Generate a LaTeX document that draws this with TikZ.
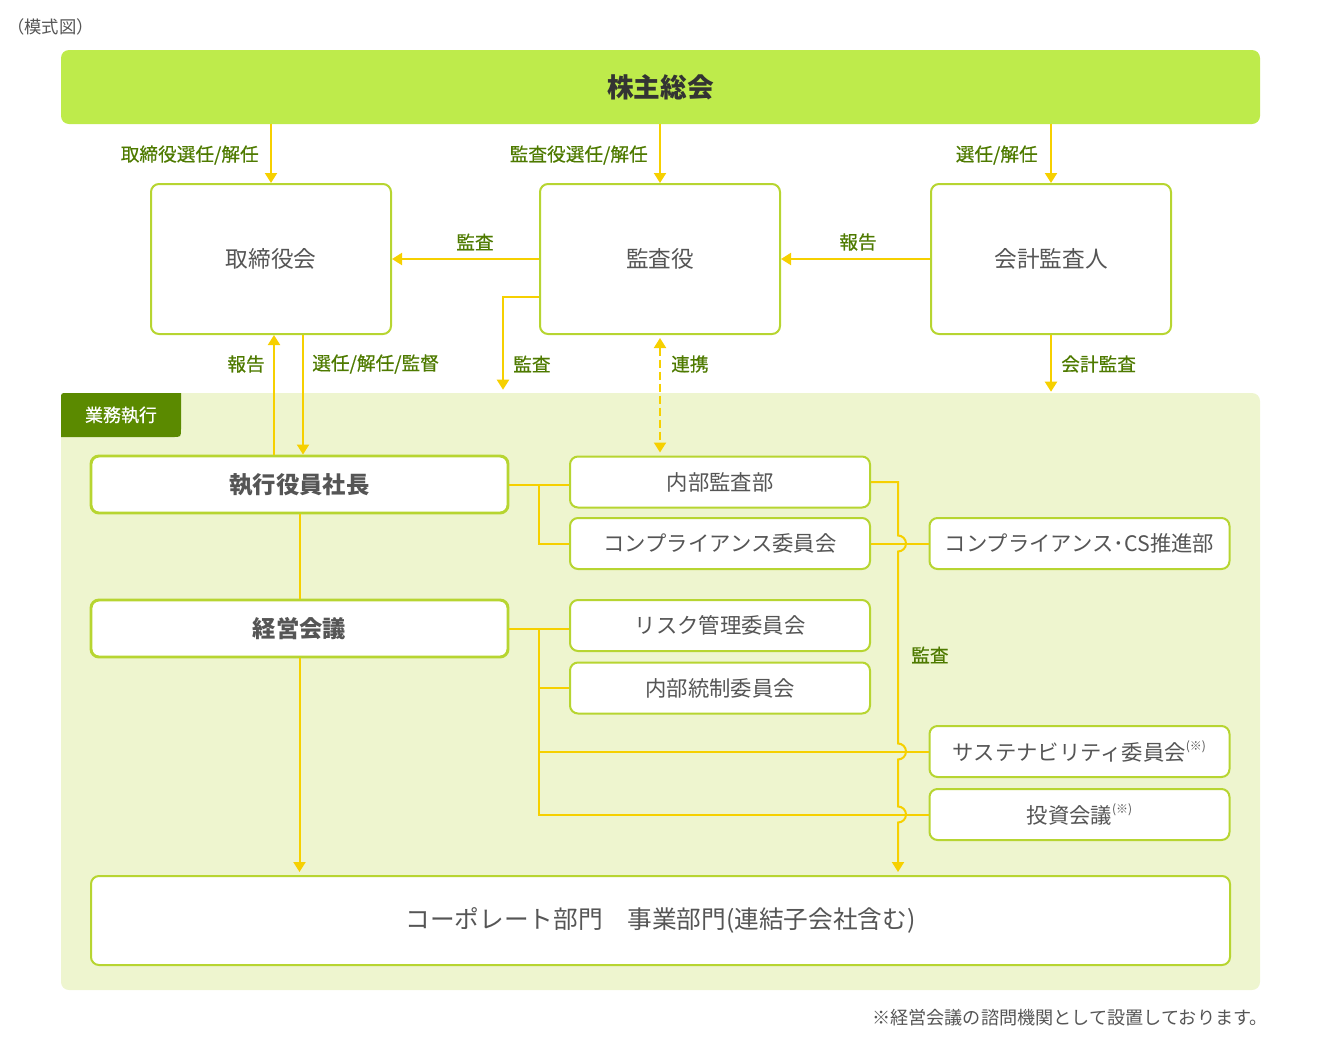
\documentclass[tikz,border=0pt]{standalone}
\usepackage{fontspec}
\setmainfont{Noto Sans CJK JP}
\newfontfamily\labfont[FakeBold=0.5]{Noto Sans CJK JP}
\usetikzlibrary{arrows.meta,calc,positioning}
\definecolor{barG}{HTML}{BEEB4B}
\definecolor{areaG}{HTML}{EEF5CF}
\definecolor{tabG}{HTML}{5B8A00}
\definecolor{edgeG}{HTML}{B7D531}
\definecolor{lineY}{HTML}{F6D000}
\definecolor{labG}{HTML}{4E7A00}
\definecolor{txtG}{HTML}{555555}
\tikzset{
  box/.style={draw=edgeG, fill=white, line width=1.5pt, rounded corners=6pt, inner sep=0pt, text=txtG, font=\fontsize{16}{18}\selectfont},
  bigbox/.style={box, minimum width=180pt, minimum height=112.5pt, font=\fontsize{17}{19}\selectfont},
  headbox/.style={box, line width=2.2pt, minimum width=312.75pt, minimum height=42.75pt, font=\bfseries\fontsize{17.5}{19}\selectfont},
  subbox/.style={box, minimum width=225pt, minimum height=38.25pt},
  lab/.style={text=labG, inner sep=0pt, font=\labfont\fontsize{14}{16}\selectfont},
  link/.style={draw=lineY, line width=1.5pt},
  arr/.style={link, -{Triangle[length=7.5pt,width=9pt]}},
}
\newcommand{\kome}{\raisebox{0.8ex}{\fontsize{9}{10}\selectfont (※)}}
\begin{document}
\begin{tikzpicture}[x=0.75pt, y=-0.75pt]
  \useasboundingbox (0,0) rectangle (1320,1050);

  % Title and footnote
  \node[anchor=west, inner sep=0pt, text=txtG, font=\fontsize{13}{15}\selectfont] (title) at (7,27) {（模式図）};
  \node[anchor=east, inner sep=0pt, text=txtG, font=\fontsize{13.6}{15}\selectfont] (note) at (1268,1018) {※経営会議の諮問機関として設置しております。};

  % Shareholders meeting
  \node[fill=barG, rounded corners=6pt, minimum width=899.25pt, minimum height=55.5pt, text=black!80, font=\bfseries\fontsize{20}{22}\selectfont] (top) at (660.5,87) {株主総会};

  % Board, auditors, accounting auditor
  \node[bigbox] (tori) at (271,259) {取締役会};
  \node[bigbox] (kansa) at (660,259) {監査役};
  \node[bigbox] (kaikei) at (1051,259) {会計監査人};

  \draw[arr] (top.south -| tori) -- (tori.north);
  \draw[arr] (top.south -| kansa) -- (kansa.north);
  \draw[arr] (top.south -| kaikei) -- (kaikei.north);
  \node[lab, anchor=east] (l1) at (259,155) {取締役選任/解任};
  \node[lab, anchor=east] (l2) at (648,155) {監査役選任/解任};
  \node[lab, anchor=east] (l3) at (1038,155) {選任/解任};

  \draw[arr] (kansa.west) -- (tori.east);
  \draw[arr] (kaikei.west) -- (kansa.east);
  \node[lab] (l4) at (475,242) {監査};
  \node[lab] (l5) at (858,242) {報告};

  % Business execution area
  \node[fill=areaG, rounded corners=6pt, minimum width=899.25pt, minimum height=447.75pt] (gyomu) at (660.5,691.5) {};
  \fill[tabG] (61,399) .. controls (61,393) .. (67,393) -- (181,393) -- (181,429) .. controls (181,437) .. (173,437) -- (61,437) -- cycle;
  \node[text=white, font=\labfont\fontsize{13.5}{15}\selectfont] (tab) at (121,415) {業務執行};

  \node[headbox] (pres) at (299.5,484.5) {執行役員社長};
  \node[headbox] (keiei) at (299.5,628.5) {経営会議};
  \node[subbox] (naibu) at (720,482) {内部監査部};
  \node[subbox] (comp) at (720,543.5) {コンプライアンス委員会};
  \node[subbox] (risk) at (720,625.5) {リスク管理委員会};
  \node[subbox] (tousei) at (720,688) {内部統制委員会};
  \node[subbox] (cs) at (1079.5,543.5) {コンプライアンス･CS推進部};
  \node[subbox] (sust) at (1079.5,751.5) {サステナビリティ委員会\kome};
  \node[subbox] (toushi) at (1079.5,814.5) {投資会議\kome};
  \node[box, minimum width=854.25pt, minimum height=66.75pt, font=\fontsize{18.5}{20}\selectfont] (dept) at (660.5,920.5) {コーポレート部門　事業部門(連結子会社含む)};

  % Links down from the top row
  \draw[arr] ($(pres.north)+(-25.5,0)$) -- ($(tori.south)+(3,0)$);
  \draw[arr] ($(tori.south)+(32,0)$) -- ($(pres.north)+(3.5,0)$);
  \node[lab, anchor=east] (l6) at (265,364) {報告};
  \node[lab, anchor=west] (l7) at (312,364) {選任/解任/監督};
  \draw[arr] ($(kansa.west)+(0,38)$) -| ($(gyomu.north)+(-157.5,-3)$);
  \node[lab, anchor=west] (l8) at (513,364) {監査};
  \draw[arr, dashed, dash pattern=on 6pt off 3pt, {Triangle[length=7.5pt,width=9pt]}-{Triangle[length=7.5pt,width=9pt]}] ($(kansa.south)+(0,3)$) -- ($(naibu.north)+(-60,-3)$);
  \node[lab, anchor=west] (l9) at (671,364) {連携};
  \draw[arr] (kaikei.south) -- ($(kaikei.south |- gyomu.north)+(0,-1)$);
  \node[lab, anchor=west] (l10) at (1061,364) {会計監査};

  % Links inside the area
  \draw[link] (pres.south) -- (keiei.north);
  \draw[arr] (keiei.south) -- ($(keiei.south |- dept.north)+(0,-3)$);
  \coordinate (b1) at ($(pres.east)!.5!(pres.east -| naibu.west)$);
  \coordinate (b2) at ($(keiei.east)!.5!(keiei.east -| risk.west)$);
  \draw[link] (pres.east) -- (pres.east -| naibu.west);
  \draw[link] (b1) |- (comp.west);
  \draw[link] (keiei.east) -- (keiei.east -| risk.west);
  \draw[link] (b2) |- (tousei.west);
  \draw[link] (b2) |- (sust.west);
  \draw[link] (b2) |- (toushi.west);
  \draw[link] (comp.east) -- (cs.west);

  \coordinate (aud) at (898,0);
  \draw[arr] (naibu.east) -| ($(aud |- comp.east)+(0,-8)$) arc[start angle=-90, end angle=90, radius=8]
    -- ($(aud |- sust.west)+(0,-8)$) arc[start angle=-90, end angle=90, radius=8]
    -- ($(aud |- toushi.west)+(0,-8)$) arc[start angle=-90, end angle=90, radius=8]
    -- ($(aud |- dept.north)+(0,-3)$);
  \node[lab, anchor=west] (l11) at (911,655) {監査};
\end{tikzpicture}
\end{document}
